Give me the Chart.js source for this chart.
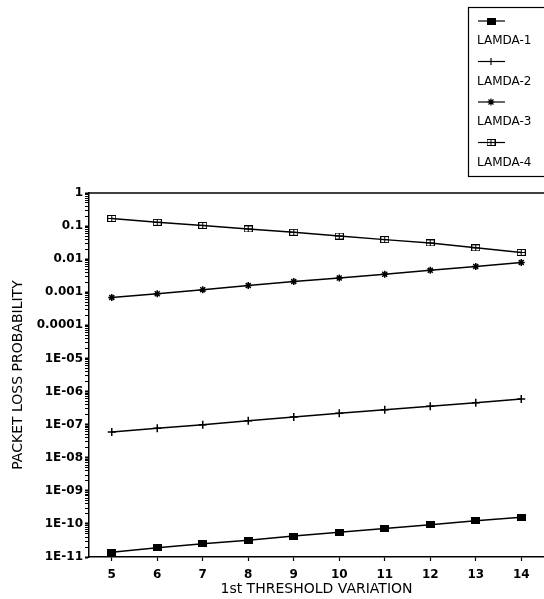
<!DOCTYPE html>
<html>
<head>
<meta charset="utf-8">
<script src="https://cdn.jsdelivr.net/npm/chart.js@4/dist/chart.umd.min.js"></script>
<style>
  html, body { margin: 0; padding: 0; background: #fff; overflow: hidden; }
  canvas { display: block; }
</style>
</head>
<body>
<canvas id="chart-loss" width="544" height="599"></canvas>
<script>
// Valeurs
const thresholds = ['5', '6', '7', '8', '9', '10', '11', '12', '13', '14'];
const lamda1 = [1.4e-11, 1.9e-11, 2.5e-11, 3.2e-11, 4.3e-11, 5.6e-11, 7.3e-11, 9.5e-11, 1.25e-10, 1.6e-10];
const lamda2 = [6.0e-8, 7.8e-8, 1.0e-7, 1.3e-7, 1.7e-7, 2.2e-7, 2.8e-7, 3.6e-7, 4.6e-7, 6.0e-7];
const lamda3 = [7.0e-4, 9.0e-4, 1.2e-3, 1.6e-3, 2.1e-3, 2.7e-3, 3.5e-3, 4.6e-3, 6.0e-3, 8.0e-3];
const lamda4 = [0.17, 0.13, 0.105, 0.082, 0.065, 0.05, 0.039, 0.031, 0.022, 0.016];
const seriesNames = ['LAMDA-1', 'LAMDA-2', 'LAMDA-3', 'LAMDA-4'];

const yTickValues = [1, 0.1, 0.01, 0.001, 0.0001, 1e-5, 1e-6, 1e-7, 1e-8, 1e-9, 1e-10, 1e-11];
const yTickLabels = ['1', '0.1', '0.01', '0.001', '0.0001', '1E-05', '1E-06', '1E-07', '1E-08', '1E-09', '1E-10', '1E-11'];

const FONT = "'DejaVu Sans', 'Liberation Sans', Arial, sans-serif";

// marqueur carré avec une croix dedans
function boxPlus() {
    const c = document.createElement('canvas');
    c.width = 9; c.height = 7;
    const g = c.getContext('2d');
    g.strokeStyle = '#000';
    g.lineWidth = 1;
    g.strokeRect(0.5, 0.5, 8, 6);
    g.beginPath();
    g.moveTo(1, 3.5); g.lineTo(8, 3.5);
    g.moveTo(4.5, 1); g.lineTo(4.5, 6);
    g.stroke();
    return c;
}

// petit rectangle plein
function filledBox() {
    const c = document.createElement('canvas');
    c.width = 9; c.height = 7;
    const g = c.getContext('2d');
    g.fillStyle = '#000';
    g.fillRect(0, 0, 9, 7);
    return c;
}

function makeSet(label, data, style, radius) {
    return {
        label: label,
        data: data,
        borderColor: '#000',
        backgroundColor: '#000',
        borderWidth: 1.5,
        pointStyle: style,
        pointRadius: radius,
        pointBorderWidth: 1.5,
        pointBackgroundColor: '#000',
        pointBorderColor: '#000',
        tension: 0
    };
}

// légende dessinée à la main, comme sur la figure
const legendBox = {
    id: 'legendBox',
    afterDraw(chart) {
        const ctx = chart.ctx;
        const area = chart.chartArea;
        ctx.save();
        // cadre haut du graphique
        ctx.strokeStyle = '#000';
        ctx.lineWidth = 1.5;
        ctx.beginPath();
        ctx.moveTo(area.left, area.top);
        ctx.lineTo(area.right, area.top);
        ctx.stroke();

        // boîte de légende
        ctx.lineWidth = 1.2;
        ctx.strokeRect(468.5, 7.5, 80, 169);
        ctx.font = '12px ' + FONT;
        ctx.fillStyle = '#000';
        ctx.textBaseline = 'middle';
        ctx.textAlign = 'left';
        const helpers = Chart.helpers;
        chart.data.datasets.forEach((ds, i) => {
            const y = 21 + i * 40.5;
            ctx.lineWidth = 1.2;
            ctx.beginPath();
            ctx.moveTo(478, y);
            ctx.lineTo(505, y);
            ctx.stroke();
            if (helpers && helpers.drawPoint) {
                ctx.fillStyle = '#000';
                ctx.strokeStyle = '#000';
                ctx.lineWidth = 1.2;
                helpers.drawPoint(ctx, {
                    pointStyle: ds.pointStyle,
                    radius: Math.min(ds.pointRadius, 3.5),
                    rotation: 0,
                    borderWidth: 1.2
                }, 491, y);
            }
            ctx.fillStyle = '#000';
            ctx.fillText(seriesNames[i], 477, y + 20);
        });
        ctx.restore();
    }
};

const ctx = document.getElementById('chart-loss');
const chartLoss = new Chart(ctx, {
    type: 'line',
    data: {
        labels: thresholds,
        datasets: [
            makeSet(seriesNames[0], lamda1, filledBox(), 5),
            makeSet(seriesNames[1], lamda2, 'cross', 4),
            makeSet(seriesNames[2], lamda3, 'star', 3.5),
            makeSet(seriesNames[3], lamda4, boxPlus(), 5)
        ]
    },
    plugins: [legendBox],
    options: {
        responsive: false,
        animation: false,
        layout: { autoPadding: false, padding: { top: 193, right: 0, left: 10, bottom: 1 } },
        scales: {
            x: {
                type: 'category',
                offset: true,
                grid: { display: true, drawOnChartArea: false, offset: false, tickLength: 4, color: '#000', tickWidth: 1.2 },
                border: { display: true, color: '#000', width: 1.5 },
                ticks: { color: '#000', font: { family: FONT, size: 12, weight: 'bold' }, padding: 7, maxRotation: 0 },
                title: {
                    display: true,
                    text: '1st THRESHOLD VARIATION',
                    color: '#000',
                    font: { family: FONT, size: 14 },
                    padding: { top: 0, bottom: 0 }
                },
                afterFit(scale) { scale.height = 41; }
            },
            y: {
                type: 'logarithmic',
                min: 1e-11,
                max: 1,
                afterBuildTicks(scale) {
                    const ticks = [];
                    yTickValues.forEach(v => {
                        ticks.push({ value: v });
                        if (v > 1e-11) {
                            for (let m = 2; m <= 9; m++) ticks.push({ value: v / 10 * m });
                        }
                    });
                    ticks.sort((a, b) => a.value - b.value);
                    scale.ticks = ticks;
                },
                grid: {
                    display: true,
                    drawOnChartArea: false,
                    tickLength: 4,
                    color: '#000',
                    tickWidth: (c) => (yTickValues.indexOf(c.tick ? c.tick.value : -1) >= 0 ? 2 : 1)
                },
                border: { display: true, color: '#000', width: 1.5 },
                ticks: {
                    autoSkip: false,
                    color: '#000',
                    padding: 2,
                    font: { family: FONT, size: 12, weight: 'bold' },
                    callback: function (value) {
                        const k = yTickValues.findIndex(v => Math.abs(v - value) / v < 1e-6);
                        return k >= 0 ? yTickLabels[k] : '';
                    }
                },
                title: {
                    display: true,
                    text: 'PACKET LOSS PROBABILITY',
                    color: '#000',
                    font: { family: FONT, size: 14 },
                    padding: { top: 0, bottom: 2 }
                },
                afterFit(scale) { scale.width = 79; }
            }
        },
        plugins: {
            legend: { display: false },
            tooltip: { enabled: false }
        }
    }
});
</script>
</body>
</html>
